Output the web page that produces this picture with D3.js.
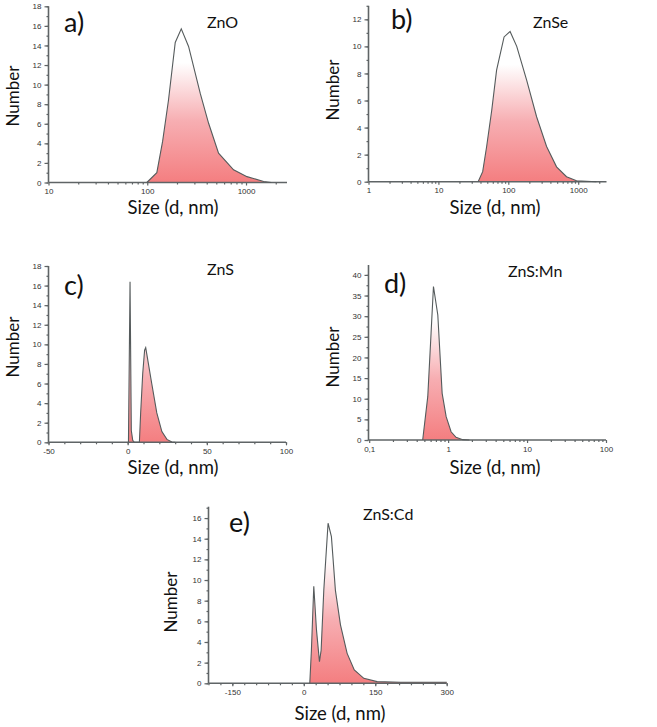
<!DOCTYPE html>
<html><head><meta charset="utf-8">
<script src="https://cdn.jsdelivr.net/npm/d3@7"></script>
<style>
body{margin:0;background:#fff}
.tick-label{font-family:"Liberation Sans",Arial,sans-serif;font-size:8px;fill:#333}
.title{font-family:Lato,"Open Sans",sans-serif;fill:#111}
</style>
</head><body>
<svg id="chart" width="657" height="727"></svg>
<script>
// ---- Data ----
const znoSize   = [99, 125, 143, 164, 192, 221, 262, 344, 418, 527, 748, 1023, 1510, 1800];
const znoNumber = [0, 1.0, 4.2, 8.4, 14.3, 15.7, 13.9, 9.1, 6.05, 3.0, 1.3, 0.6, 0.1, 0];

const znseSize   = [37, 43, 49, 58, 68, 87, 106, 132, 183, 254, 353, 490, 681, 946, 1820];
const znseNumber = [0, 0.74, 2.6, 5.3, 8.25, 10.7, 11.1, 10.0, 7.5, 4.8, 2.6, 1.1, 0.37, 0.07, 0];

const znsSize   = [0.5, 1.5, 2.3, 3.2, 4.2, 7.4, 8.2, 9.5, 10.7, 11.4, 12.4, 15.2, 18.4, 21.6, 24.8, 27.9, 30];
const znsNumber = [0, 16.4, 1.2, 0.2, 0, 0, 3.0, 7.0, 9.4, 9.66, 8.7, 6.0, 3.0, 1.1, 0.3, 0.03, 0];

const znsmnSize   = [0.476, 0.552, 0.608, 0.652, 0.74, 0.84, 0.944, 1.09, 1.26, 1.53, 1.86];
const znsmnNumber = [0, 10.5, 25.9, 37.2, 30.3, 11.3, 5.66, 2.0, 0.65, 0.08, 0];

const znscdSize   = [12.6, 16, 21, 26.6, 32.9, 36.4, 42, 51, 58, 66.4, 77, 91, 106, 126, 154, 203, 300];
const znscdNumber = [0, 3.2, 9.4, 5.2, 2.1, 3.2, 9.0, 15.5, 14.2, 9.0, 5.66, 2.9, 1.3, 0.48, 0.16, 0.1, 0.1];

// tick values
const ticksA = [10, 100, 1000];
const ticksB = [1, 10, 100, 1000];
const ticksC = [-50, 0, 50, 100];
const ticksD = [0.1, 1, 10, 100];
const tickLabelsD = ["0,1", "1", "10", "100"];
const ticksE = [-150, 0, 150, 300];
const yTicks18 = [0, 2, 4, 6, 8, 10, 12, 14, 16, 18];
const yTicks12 = [0, 2, 4, 6, 8, 10, 12];
const yTicks40 = [0, 5, 10, 15, 20, 25, 30, 35, 40];
const yTicks16 = [0, 2, 4, 6, 8, 10, 12, 14, 16];

const panelLetters = ["a)", "b)", "c)", "d)", "e)"];
const materials = ["ZnO", "ZnSe", "ZnS", "ZnS:Mn", "ZnS:Cd"];

// ---- Layout ----
function logMinors(lo, hi) {
  const out = [];
  for (let d = Math.floor(Math.log10(lo)); d <= Math.ceil(Math.log10(hi)); d++) {
    for (let k = 2; k <= 9; k++) { const v = k * Math.pow(10, d); if (v > lo && v < hi) out.push(v); }
  }
  return out;
}
function linMinors(lo, hi, step) {
  const out = []; for (let v = Math.ceil(lo / step) * step; v <= hi + 1e-9; v += step) out.push(v); return out;
}

const panels = [
  {size: znoSize, num: znoNumber, type: "log", xd: [10, 2600], xr: [48.5, 287], yd: [0, 18], yr: [182.5, 6.3],
   xt: ticksA, xl: ticksA.map(String), xm: logMinors(10, 2600), yt: yTicks18, ym: linMinors(0, 18, 1),
   letter: [64, 32], mat: [207, 28], ylab: [13, 96], xlab: [173, 214]},
  {size: znseSize, num: znseNumber, type: "log", xd: [1, 2540], xr: [368.5, 606.5], yd: [0, 13], yr: [181.7, 5.8],
   xt: ticksB, xl: ticksB.map(String), xm: logMinors(1, 2540), yt: yTicks12, ym: linMinors(0, 13, 1),
   letter: [391, 29], mat: [533, 28], ylab: [333, 90], xlab: [495, 214]},
  {size: znsSize, num: znsNumber, type: "lin", xd: [-50, 100], xr: [48.5, 286], yd: [0, 18], yr: [442.3, 266],
   xt: ticksC, xl: ticksC.map(String), xm: linMinors(-50, 100, 10), yt: yTicks18, ym: linMinors(0, 18, 1),
   letter: [64, 295], mat: [207, 275], ylab: [13, 347], xlab: [173, 474]},
  {size: znsmnSize, num: znsmnNumber, type: "log", xd: [0.098, 100], xr: [368.5, 606], yd: [0, 42.4], yr: [440, 265],
   xt: ticksD, xl: tickLabelsD, xm: logMinors(0.098, 100), yt: yTicks40, ym: linMinors(0, 42, 2.5),
   letter: [384, 293], mat: [508, 277], ylab: [333, 357], xlab: [495, 474]},
  {size: znscdSize, num: znscdNumber, type: "lin", xd: [-200, 300], xr: [208.5, 446.7], yd: [0, 17.1], yr: [683.3, 506.7],
   xt: ticksE, xl: ticksE.map(String), xm: linMinors(-200, 300, 25), yt: yTicks16, ym: linMinors(0, 17, 1),
   letter: [229, 532], mat: [363, 520], ylab: [171, 602], xlab: [340, 720]}
];

const svg = d3.select("#chart");
const defs = svg.append("defs");
const grad = defs.append("linearGradient").attr("id", "fillGrad")
  .attr("x1", 0).attr("y1", 0).attr("x2", 0).attr("y2", 1);
grad.append("stop").attr("offset", "0.22").attr("stop-color", "#ffffff");
grad.append("stop").attr("offset", "0.6").attr("stop-color", "#f7aeb2");
grad.append("stop").attr("offset", "1").attr("stop-color", "#f47e80");

const axisColor = "#5f6466";

panels.forEach((p, i) => {
  const g = svg.append("g");
  const x = (p.type === "log" ? d3.scaleLog() : d3.scaleLinear()).domain(p.xd).range(p.xr);
  const y = d3.scaleLinear().domain(p.yd).range(p.yr);
  const pts = p.size.map((s, k) => [s, p.num[k]]);

  g.append("path").datum(pts)
    .attr("d", d3.area().x(d => x(d[0])).y0(y(0)).y1(d => y(d[1])))
    .attr("fill", "url(#fillGrad)");

  // axes
  const xAxis = d3.axisBottom(x).tickValues(p.xt).tickFormat((d, k) => p.xl[k]).tickSize(3).tickPadding(3);
  const xMin = d3.axisBottom(x).tickValues(p.xm).tickFormat("").tickSize(2);
  const yAxis = d3.axisLeft(y).tickValues(p.yt).tickSize(4).tickPadding(3);
  const yMin = d3.axisLeft(y).tickValues(p.ym).tickFormat("").tickSize(2);

  const gx = g.append("g").attr("transform", `translate(0,${y(0)})`).call(xAxis);
  const gxm = g.append("g").attr("transform", `translate(0,${y(0)})`).call(xMin);
  const gy = g.append("g").attr("transform", `translate(${p.xr[0]},0)`).call(yAxis);
  const gym = g.append("g").attr("transform", `translate(${p.xr[0]},0)`).call(yMin);
  [gx, gxm, gy, gym].forEach(a => {
    a.select(".domain").attr("stroke", axisColor).attr("stroke-width", 1.6);
    a.selectAll(".tick line").attr("stroke", axisColor).attr("stroke-width", 1.2);
    a.selectAll(".tick text").attr("class", "tick-label").attr("fill", "#333");
    a.attr("font-size", null).attr("font-family", null);
  });
  gx.selectAll(".domain").attr("d", `M${p.xr[0]},0H${p.xr[1]}`);
  gy.selectAll(".domain").attr("d", `M0,${p.yr[0]}V${p.yr[1]}`);
  gxm.select(".domain").remove(); gym.select(".domain").remove();

  g.append("path").datum(pts)
    .attr("d", d3.line().x(d => x(d[0])).y(d => y(d[1])))
    .attr("fill", "none").attr("stroke", "#555b5c").attr("stroke-width", 1.1);

  g.append("text").attr("class", "title").attr("x", p.letter[0]).attr("y", p.letter[1])
    .attr("font-size", 27).text(panelLetters[i]);
  g.append("text").attr("class", "title").attr("x", p.mat[0]).attr("y", p.mat[1])
    .attr("font-size", 16).text(materials[i]);
  g.append("text").attr("class", "title").attr("text-anchor", "middle")
    .attr("transform", `translate(${p.ylab[0]},${p.ylab[1]}) rotate(-90)`)
    .attr("dy", "0.35em").attr("font-size", 17).text("Number");
  g.append("text").attr("class", "title").attr("text-anchor", "middle")
    .attr("x", p.xlab[0]).attr("y", p.xlab[1]).attr("font-size", 18.5).text("Size (d, nm)");
});
</script>
</body></html>
